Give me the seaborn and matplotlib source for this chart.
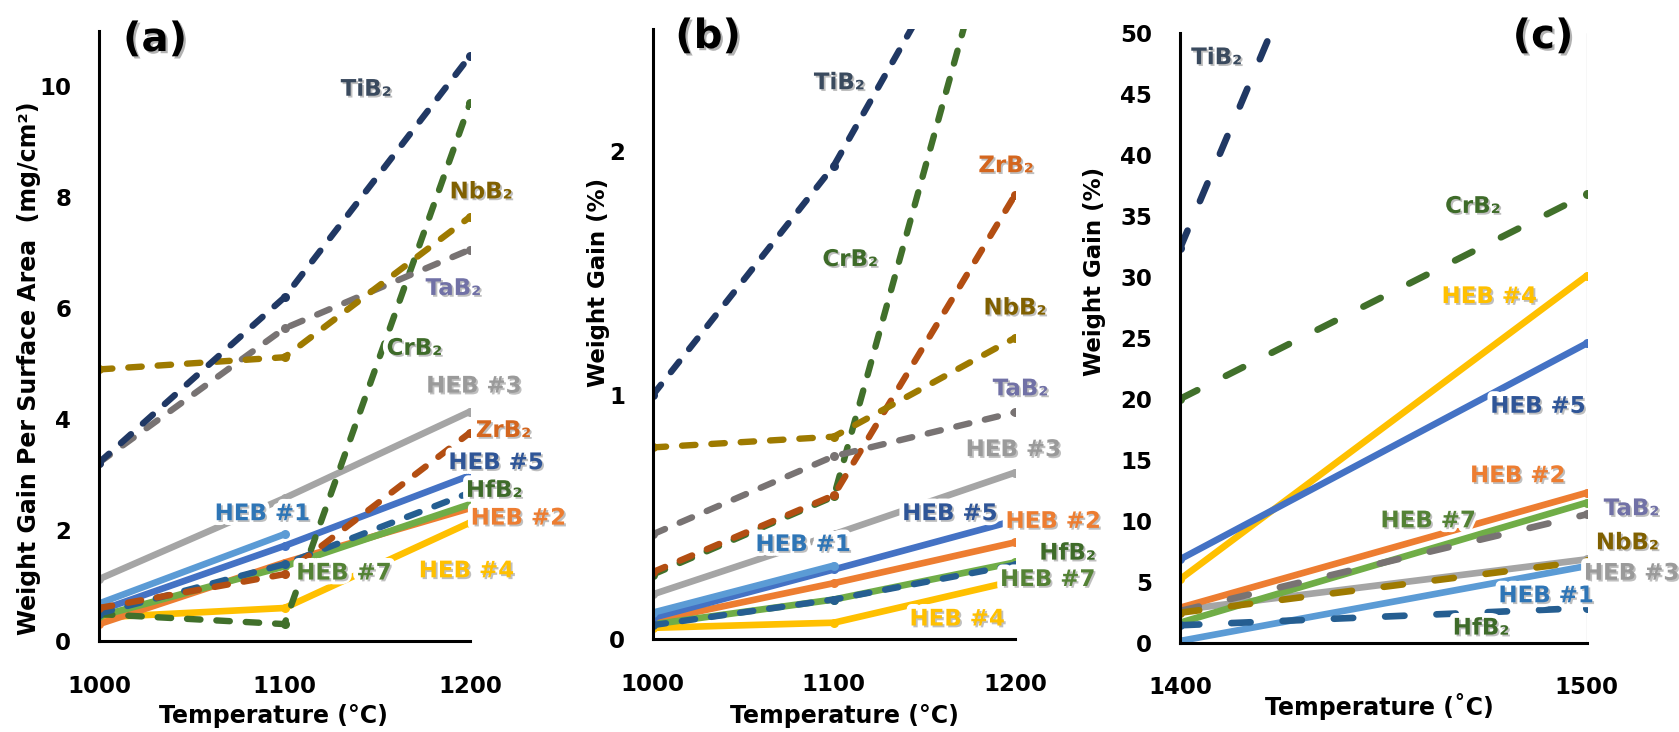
import matplotlib
matplotlib.use("Agg")
import matplotlib.pyplot as plt
import matplotlib.patheffects as pe
import seaborn as sns
import pandas as pd

sns.set_style("white")
plt.rcParams['font.family'] = ['DejaVu Sans']
plt.rcParams['font.weight'] = 'bold'
plt.rcParams['text.color'] = 'black'

# ---------------- data ----------------
temps_ab = [1000, 1100, 1200]
temps_c = [1400, 1500]

# panel (a): weight gain per surface area (mg/cm2)
a_TiB2 = [3.22, 6.20, 10.55]
a_TaB2 = [3.22, 5.64, 7.06]
a_NbB2 = [4.90, 5.12, 7.65]
a_CrB2 = [0.49, 0.31, 9.70]
a_ZrB2 = [0.60, 1.21, 3.76]
a_HfB2 = [0.50, 1.39, 2.68]
a_HEB1 = [0.68, 1.93]
a_HEB2 = [0.31, 1.42, 2.40]
a_HEB3 = [1.12, 2.58, 4.14]
a_HEB4 = [0.43, 0.60, 2.14]
a_HEB5 = [0.55, 1.72, 2.99]
a_HEB7 = [0.45, 1.35, 2.47]

# panel (b): weight gain (%)
b_TiB2 = [1.00, 1.94, 3.25]
b_TaB2 = [0.43, 0.75, 0.93]
b_NbB2 = [0.786, 0.83, 1.235]
b_CrB2 = [0.265, 0.585, 3.26]
b_ZrB2 = [0.275, 0.59, 1.82]
b_HfB2 = [0.058, 0.163, 0.305]
b_HEB1 = [0.109, 0.302]
b_HEB2 = [0.075, 0.23, 0.397]
b_HEB3 = [0.184, 0.43, 0.683]
b_HEB4 = [0.047, 0.068, 0.24]
b_HEB5 = [0.088, 0.286, 0.487]
b_HEB7 = [0.061, 0.163, 0.315]

# panel (c): weight gain (%)
c_TiB2 = [32.35, 111.5]
c_CrB2 = [20.0, 36.8]
c_HEB4 = [5.2, 30.1]
c_HEB5 = [6.84, 24.56]
c_HEB2 = [2.87, 12.3]
c_HEB7 = [1.64, 11.49]
c_TaB2 = [2.6, 10.53]
c_HEB3 = [2.68, 6.84]
c_NbB2 = [2.46, 6.7]
c_HEB1 = [0.14, 6.29]
c_HfB2 = [1.43, 2.85]

# ---------------- styles ----------------
line_col = {"TiB₂": "#203864", "TaB₂": "#787373", "NbB₂": "#9E7A00",
            "CrB₂": "#41702B", "ZrB₂": "#B34E12", "HfB₂": "#255E91",
            "HEB #1": "#5B9BD5", "HEB #2": "#ED7D31", "HEB #3": "#A5A5A5",
            "HEB #4": "#FFC000", "HEB #5": "#4472C4", "HEB #7": "#70AD47"}
text_col = {"TiB₂": "#3A4A5E", "TaB₂": "#7171A6", "NbB₂": "#806000",
            "CrB₂": "#3E6B29", "ZrB₂": "#D4661E", "HfB₂": "#3E6B29",
            "HEB #1": "#2E75B6", "HEB #2": "#ED7D31", "HEB #3": "#9A9A9A",
            "HEB #4": "#FFC000", "HEB #5": "#2F5597", "HEB #7": "#548235"}
dashed = {"TiB₂", "TaB₂", "NbB₂", "CrB₂", "ZrB₂", "HfB₂"}
draw_order = ["HEB #3", "HEB #4", "HEB #2", "HEB #7", "HEB #5", "HEB #1",
              "CrB₂", "HfB₂", "ZrB₂", "TaB₂", "NbB₂", "TiB₂"]

W, H = 1679, 732
fig = plt.figure(figsize=(W / 100, H / 100), dpi=100)

def px_axes(l, r, b, t):
    return fig.add_axes([l / W, 1 - b / H, (r - l) / W, (b - t) / H])

ax_a = px_axes(99, 470, 641.3, 31)
ax_b = px_axes(652.7, 1015, 639.3, 29)
ax_c = px_axes(1180, 1586.7, 642.7, 33.3)

panels = {
    "a": (ax_a, temps_ab, {"TiB₂": a_TiB2, "TaB₂": a_TaB2, "NbB₂": a_NbB2, "CrB₂": a_CrB2,
                          "ZrB₂": a_ZrB2, "HfB₂": a_HfB2, "HEB #1": a_HEB1, "HEB #2": a_HEB2,
                          "HEB #3": a_HEB3, "HEB #4": a_HEB4, "HEB #5": a_HEB5, "HEB #7": a_HEB7}),
    "b": (ax_b, temps_ab, {"TiB₂": b_TiB2, "TaB₂": b_TaB2, "NbB₂": b_NbB2, "CrB₂": b_CrB2,
                          "ZrB₂": b_ZrB2, "HfB₂": b_HfB2, "HEB #1": b_HEB1, "HEB #2": b_HEB2,
                          "HEB #3": b_HEB3, "HEB #4": b_HEB4, "HEB #5": b_HEB5, "HEB #7": b_HEB7}),
    "c": (ax_c, temps_c, {"TiB₂": c_TiB2, "TaB₂": c_TaB2, "NbB₂": c_NbB2, "CrB₂": c_CrB2,
                         "HfB₂": c_HfB2, "HEB #1": c_HEB1, "HEB #2": c_HEB2,
                         "HEB #3": c_HEB3, "HEB #4": c_HEB4, "HEB #5": c_HEB5, "HEB #7": c_HEB7}),
}

label_pos = {
    "a": {"TiB₂": (1144, 9.95), "NbB₂": (1206, 8.1), "TaB₂": (1191, 6.36), "CrB₂": (1170, 5.28),
          "HEB #3": (1202, 4.6), "ZrB₂": (1218, 3.8), "HEB #5": (1214, 3.22), "HfB₂": (1213, 2.72),
          "HEB #2": (1226, 2.22), "HEB #1": (1088, 2.3), "HEB #7": (1132, 1.23), "HEB #4": (1198, 1.27)},
    "b": {"TiB₂": (1103, 2.28), "CrB₂": (1109, 1.556), "ZrB₂": (1195, 1.94), "NbB₂": (1200, 1.357),
          "TaB₂": (1203, 1.026), "HEB #3": (1199, 0.777), "HEB #5": (1164, 0.515), "HEB #2": (1221, 0.483),
          "HfB₂": (1229, 0.353), "HEB #7": (1218, 0.245), "HEB #4": (1168, 0.083), "HEB #1": (1083, 0.388)},
    "c": {"TiB₂": (1409, 48.0), "CrB₂": (1472, 35.8), "HEB #4": (1476, 28.4), "HEB #5": (1488, 19.4),
          "HEB #2": (1483, 13.7), "HEB #7": (1461, 10.0), "TaB₂": (1511, 11.0), "NbB₂": (1510, 8.2),
          "HEB #3": (1511, 5.7), "HEB #1": (1490, 3.85), "HfB₂": (1474, 1.2)},
}

label_fx = [pe.Stroke(linewidth=7, foreground="white"),
            pe.SimplePatchShadow(offset=(1.3, -1.3), shadow_rgbFace="black", alpha=0.25),
            pe.Normal()]
shadow_fx = [pe.SimplePatchShadow(offset=(1.6, -1.6), shadow_rgbFace="black", alpha=0.3), pe.Normal()]

for key, (ax, temps, series) in panels.items():
    for name in draw_order:
        if name not in series:
            continue
        vals = series[name]
        xs = temps[:len(vals)]
        df = pd.DataFrame({"T": xs, "v": vals})
        if name in dashed:
            if key == "c":
                kw = dict(lw=4.8, linestyle=(0, (2.9, 4.8)))
            else:
                kw = dict(lw=4.6, linestyle=(0, (2.1, 2.5)))
        else:
            kw = dict(lw=4.8, linestyle="-")
        sns.lineplot(data=df, x="T", y="v", ax=ax, color=line_col[name],
                     marker="o", markersize=6.5, markeredgewidth=0,
                     dash_capstyle="round", solid_capstyle="round", **kw)
    for name, (lx, ly) in label_pos[key].items():
        ax.text(lx, ly, name, color=text_col[name], fontsize=16.5, fontweight="bold",
                ha="center", va="center", clip_on=False, path_effects=label_fx, zorder=10)
    ax.set_xlabel("")
    ax.set_ylabel("")
    for s in ("top", "right"):
        ax.spines[s].set_visible(False)
    for s in ("left", "bottom"):
        ax.spines[s].set_color("black")
        ax.spines[s].set_linewidth(2.2)
    ax.tick_params(axis="both", direction="in", length=8, width=2.2, colors="black",
                   labelsize=16.5)
    ax.tick_params(axis="y", pad=20)
    ax.tick_params(axis="x", pad=24)

ax_a.set_xlim(1000, 1200); ax_a.set_ylim(0, 11)
ax_a.set_xticks(temps_ab); ax_a.set_yticks([0, 2, 4, 6, 8, 10])
ax_b.set_xlim(1000, 1200); ax_b.set_ylim(0, 2.5)
ax_b.set_xticks(temps_ab); ax_b.set_yticks([0, 1, 2])
ax_c.set_xlim(1400, 1500); ax_c.set_ylim(0, 50)
ax_c.set_xticks(temps_c); ax_c.set_yticks(range(0, 51, 5))
ax_c.axvline(1500, color="#D9D9D9", lw=1, zorder=0)

for ax in (ax_a, ax_b, ax_c):
    for lab in ax.get_xticklabels() + ax.get_yticklabels():
        lab.set_fontweight("bold")

# axis titles and panel letters
def ftext(x, y, s, **kw):
    fig.text(x / W, 1 - y / H, s, ha="center", va="center", fontweight="bold",
             color="black", **kw)

ftext(29, 368, "Weight Gain Per Surface Area  (mg/cm²)", rotation=90, fontsize=17)
ftext(598, 282, "Weight Gain (%)", rotation=90, fontsize=16.5)
ftext(1095, 271, "Weight Gain (%)", rotation=90, fontsize=16.5)
ftext(273, 716, "Temperature (°C)", fontsize=17)
ftext(844, 716, "Temperature (°C)", fontsize=17)
ftext(1379, 706, "Temperature (˚C)", fontsize=17)
ftext(155, 40, "(a)", fontsize=29, path_effects=shadow_fx)
ftext(708, 37, "(b)", fontsize=29, path_effects=shadow_fx)
ftext(1543, 37, "(c)", fontsize=29, path_effects=shadow_fx)

fig.savefig("out.png", dpi=100)
